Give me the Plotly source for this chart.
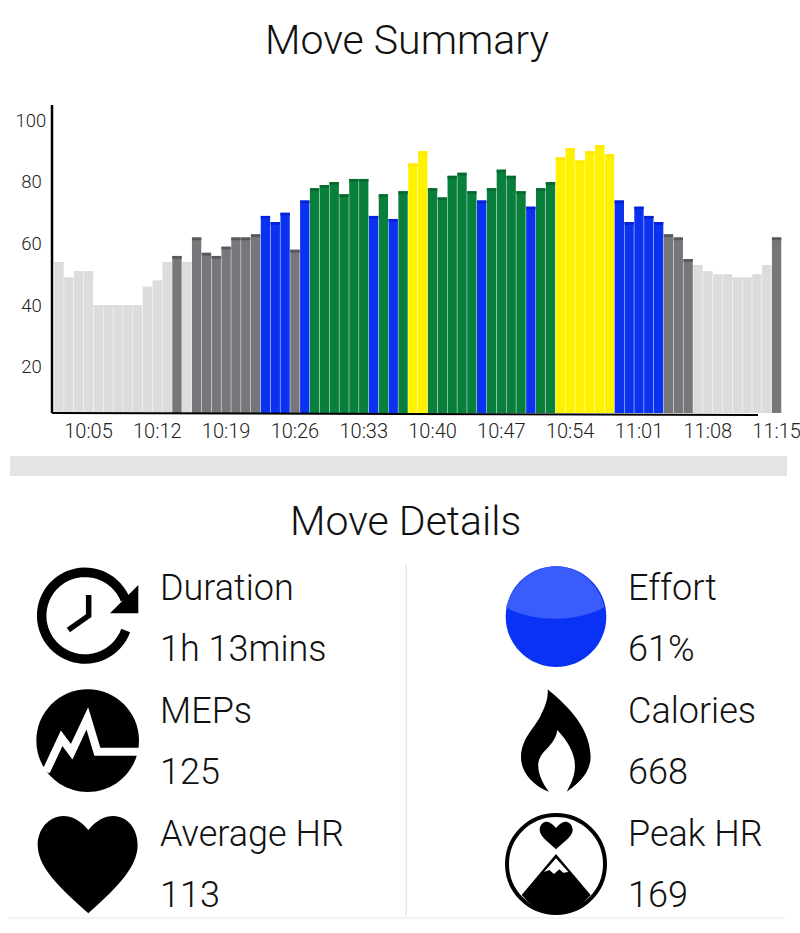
import re
import math
import plotly.graph_objects as go

# heart rate per minute
values = [54, 49, 51, 51, 40, 40, 40, 40, 40, 46, 48, 54, 56, 54, 62, 57, 56, 59, 62, 62, 63,
          69, 67, 70, 58, 74, 78, 79, 80, 76, 81, 81, 69, 76, 68, 77, 86, 90, 78, 75, 82, 83, 77,
          74, 78, 84, 82, 77, 72, 78, 80, 88, 91, 87, 90, 92, 89, 74, 67, 72, 69, 67, 63, 62, 55,
          53, 51, 50, 50, 49, 49, 50, 53, 62]
# effort zone of each bar: l light, d dark, b blue, g green, y yellow
zones = list("llllllllllll") + list("dl") + list("ddddddd") + list("bbbdb") + \
    list("gggggg") + list("bgbg") + list("yy") + list("ggggg") + list("b") + list("gggg") + \
    list("b") + list("gg") + list("yyyyyy") + list("bbbbb") + list("ddd") + list("llllllll") + list("d")

tick_index = [3, 10, 17, 24, 31, 38, 45, 52, 59, 66, 73]
tick_labels = ["10:05", "10:12", "10:19", "10:26", "10:33", "10:40", "10:47", "10:54", "11:01", "11:08", "11:15"]
y_ticks = [20, 40, 60, 80, 100]
y_labels = ["20\u00a0", "40\u00a0", "60\u00a0", "80\u00a0", "100"]

left_labels = ["Duration", "1h 13mins", "MEPs", "125", "Average HR", "113"]
right_labels = ["Effort", "61%", "Calories", "668", "Peak HR", "169"]
label_rows = [588, 649, 711, 772, 834, 895]

bar_colors = {"l": "#dcdcdc", "d": "#77777b", "b": "#0a32f0", "g": "#08803c", "y": "#fff200"}
cap_colors = {"l": "#dcdcdc", "d": "#58585c", "b": "#0622d8", "g": "#066a30", "y": "#ffe900"}
FONT = "Roboto"
W, H = 800, 933


def px_path(d, ox=0, oy=0, scale=1.0):
    # turn a path written in picture pixels into paper coordinates
    nums = iter(range(10 ** 6))

    def conv(m):
        v = float(m.group())
        if next(nums) % 2 == 0:
            return f"{(ox + v * scale) / W:.5f}"
        return f"{1 - (oy + v * scale) / H:.5f}"
    return re.sub(r"-?\d+\.?\d*", conv, d)


def circle_d(cx, cy, r):
    k = 0.5523 * r
    return (f"M {cx - r} {cy} C {cx - r} {cy - k} {cx - k} {cy - r} {cx} {cy - r} "
            f"C {cx + k} {cy - r} {cx + r} {cy - k} {cx + r} {cy} "
            f"C {cx + r} {cy + k} {cx + k} {cy + r} {cx} {cy + r} "
            f"C {cx - k} {cy + r} {cx - r} {cy + k} {cx - r} {cy} Z")


def arc_d(cx, cy, r, a0, a1, n=60):
    pts = []
    for i in range(n + 1):
        a = math.radians(a0 + (a1 - a0) * i / n)
        pts.append(f"{cx + r * math.cos(a):.2f} {cy + r * math.sin(a):.2f}")
    return "M " + " L ".join(pts)


shapes = []


def add_path(d, fill=None, line=None, width=0, ox=0, oy=0, scale=1.0):
    s = dict(type="path", xref="paper", yref="paper", path=px_path(d, ox, oy, scale),
             line=dict(width=width, color=line or "rgba(0,0,0,0)"))
    if fill:
        s["fillcolor"] = fill
    shapes.append(s)


def rect(x0, y0, x1, y1, color):
    add_path(f"M {x0} {y0} L {x1} {y0} L {x1} {y1} L {x0} {y1} Z", fill=color)


# axis lines
add_path("M 52 105 L 52 413", line="#000000", width=2.5)
add_path("M 52 413 L 400 414 L 758 415", line="#000000", width=2)

# scroll bar and dividers
rect(10, 456, 787, 476, "#e4e4e4")
rect(405.5, 565, 407, 915, "#e6e6e6")
rect(8, 917.5, 785, 918.5, "#e8e8e8")

# clock icon
LX, LY = 0, 550
add_path(arc_d(255, 197, 130, 20, 338), line="#000000", width=9.5, ox=LX, oy=LY, scale=1 / 3)
add_path("M 415 105 L 415 190 L 330 190 Z", fill="#000000", ox=LX, oy=LY, scale=1 / 3)
add_path("M 266 135 L 266 197 L 205 240", line="#000000", width=5.5, ox=LX, oy=LY, scale=1 / 3)

# MEPs icon
add_path(circle_d(263, 572, 154), fill="#000000", ox=LX, oy=LY, scale=1 / 3)
add_path("M 138 665 L 185 565 L 215 605 L 262 505 L 292 605 L 425 605", line="#ffffff", width=8,
         ox=LX, oy=LY, scale=1 / 3)

# heart icon
add_path("M 265 840 C 240 810 215 798 190 798 C 145 798 113 840 113 885 C 113 960 200 1030 265 1090 "
         "C 330 1030 413 960 413 885 C 413 840 385 798 340 798 C 315 798 290 810 265 840 Z",
         fill="#000000", ox=LX, oy=LY, scale=1 / 3)

# effort icon
RX, RY = 400, 550
add_path(circle_d(468, 200, 151), fill="#0a32f5", ox=RX, oy=RY, scale=1 / 3)
add_path("M 318 172 C 340 100 400 49 468 49 C 536 49 596 100 613 172 C 570 195 520 206 468 206 "
         "C 410 206 360 195 318 172 Z", fill="#3a5cfb", ox=RX, oy=RY, scale=1 / 3)

# calories icon
add_path("M 443 418 C 480 450 570 520 572 620 C 572 670 530 705 500 725 C 520 690 530 660 522 625 "
         "C 515 590 490 560 472 540 C 465 590 420 600 415 640 C 412 670 430 705 447 725 "
         "C 405 710 362 670 363 620 C 365 560 410 530 425 490 C 435 470 445 445 443 418 Z",
         fill="#000000", ox=RX, oy=RY, scale=1 / 3)

# peak HR icon
add_path("M 468 912 L 365 1035 C 400 1075 430 1092 468 1092 C 510 1092 540 1070 572 1035 Z",
         fill="#000000", ox=RX, oy=RY, scale=1 / 3)
add_path("M 468 925 L 432 966 L 448 960 L 462 972 L 478 958 L 490 968 L 505 966 Z",
         fill="#ffffff", ox=RX, oy=RY, scale=1 / 3)
add_path(circle_d(468, 942, 147), line="#000000", width=4, ox=RX, oy=RY, scale=1 / 3)
add_path("M 468 834 C 455 818 445 815 438 815 C 428 815 419 826 419 840 C 419 860 450 880 468 898 "
         "C 486 880 518 860 518 840 C 518 826 508 815 498 815 C 491 815 481 818 468 834 Z",
         fill="#000000", ox=RX, oy=RY, scale=1 / 3)

annotations = [dict(text="Move Summary", x=407 / W, y=1 - 40 / H, xref="paper", yref="paper", showarrow=False,
                    xanchor="center", yanchor="middle", font=dict(family=FONT, size=41, color="#111111", weight=300)),
               dict(text="Move Details", x=406 / W, y=1 - 521 / H, xref="paper", yref="paper", showarrow=False,
                    xanchor="center", yanchor="middle", font=dict(family=FONT, size=41, color="#111111", weight=300))]
for col_x, labels in [(158, left_labels), (626, right_labels)]:
    for label, row in zip(labels, label_rows):
        annotations.append(dict(text=label, x=col_x / W, y=1 - row / H, xref="paper", yref="paper", showarrow=False,
                                xanchor="left", yanchor="middle",
                                font=dict(family=FONT, size=36, color="#111111", weight=300)))

CAP = 0.9
idx = list(range(len(values)))
fig = go.Figure()
fig.add_trace(go.Bar(x=idx, y=values, width=0.95, marker=dict(color=[bar_colors[z] for z in zones], line_width=0),
                     hoverinfo="x+y", showlegend=False))
fig.add_trace(go.Bar(x=idx, y=[CAP] * len(values), base=[v - CAP for v in values], width=0.95,
                     marker=dict(color=[cap_colors[z] for z in zones], line_width=0),
                     hoverinfo="skip", showlegend=False))

x_step = 9.83
x_first = 59
fig.update_layout(
    width=W, height=H, margin=dict(l=0, r=0, t=0, b=0),
    paper_bgcolor="#ffffff", plot_bgcolor="rgba(0,0,0,0)", barmode="overlay",
    shapes=shapes, annotations=annotations,
    xaxis=dict(domain=[52 / W, 1], range=[(52 - x_first) / x_step, (W - x_first) / x_step],
               tickmode="array", tickvals=tick_index, ticktext=tick_labels, showgrid=False, zeroline=False,
               showline=False, ticks="outside", ticklen=0, tickcolor="rgba(0,0,0,0)", ticklabeloverflow="allow",
               tickfont=dict(family=FONT, size=20, color="#222222", weight=300)),
    yaxis=dict(domain=[1 - 413 / H, 1 - 105 / H], range=[5, 105],
               tickmode="array", tickvals=y_ticks, ticktext=y_labels, showgrid=False, zeroline=False,
               showline=False, ticks="outside", ticklen=1, tickcolor="rgba(0,0,0,0)",
               tickfont=dict(family=FONT, size=18.5, color="#222222", weight=300)),
)

fig.write_html("out.html", config=dict(displayModeBar=False), post_script="document.body.style.margin='0';")
